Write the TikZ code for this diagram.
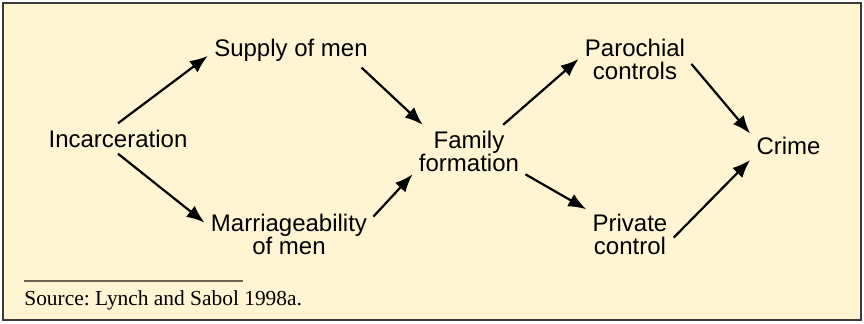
\documentclass[tikz,border=0pt]{standalone}
\usepackage{fontspec}
\setmainfont{Liberation Serif}
\setsansfont{Liberation Sans}
\usetikzlibrary{arrows.meta}
\usepackage{xcolor}
\definecolor{paper}{HTML}{FFF5D3}
\definecolor{frame}{HTML}{3A3A3A}
\definecolor{rule}{HTML}{6E6352}
\frenchspacing

\begin{document}
\begin{tikzpicture}[x=0.5pt,y=-0.5pt]
	\tikzset{vertex/.style = {align=center, inner sep=3pt,
			font=\sffamily\fontsize{12}{11.5}\selectfont}}
	\tikzset{edge/.style = {line width=1.1pt,
			-{Latex[length=9pt,width=7pt]}}}
	% background
	\useasboundingbox (0,0) rectangle (864,323);
	\draw[frame, fill=paper, line width=0.9pt] (3,3) rectangle (861,320);
	% vertices
	\node[vertex] (inc) at (118,138.5) {Incarceration};
	\node[vertex] (sup) at (291,50) {Supply of men};
	\node[vertex] (mar) at (289,234.5) {Marriageability\\of men};
	\node[vertex] (fam) at (469,151.5) {Family\\formation};
	\node[vertex] (par) at (635,59) {Parochial\\controls};
	\node[vertex] (pri) at (630,234.5) {Private\\control};
	\node[vertex] (cri) at (788.5,146) {Crime};
	%edges
	\draw[edge] (inc.north) to (sup.184);
	\draw[edge] (inc.south) to (mar.172);
	\draw[edge] (sup.-14) to (fam.150);
	\draw[edge] (mar.12) to (fam.202);
	\draw[edge] (fam.38) to (par.west);
	\draw[edge] (fam.338) to (pri.150);
	\draw[edge] (par.355) to (cri.162);
	\draw[edge] (pri.-4) to (cri.200);
	% source note
	\draw[rule, line width=1pt] (24,281) coordinate (rl) -- (243,281) coordinate (rr);
	\node[anchor=base west, inner sep=0pt, font=\fontsize{10.7}{12}\selectfont]
		(src) at (24,305) {Source: Lynch and Sabol 1998a.};
\end{tikzpicture}
\end{document}
